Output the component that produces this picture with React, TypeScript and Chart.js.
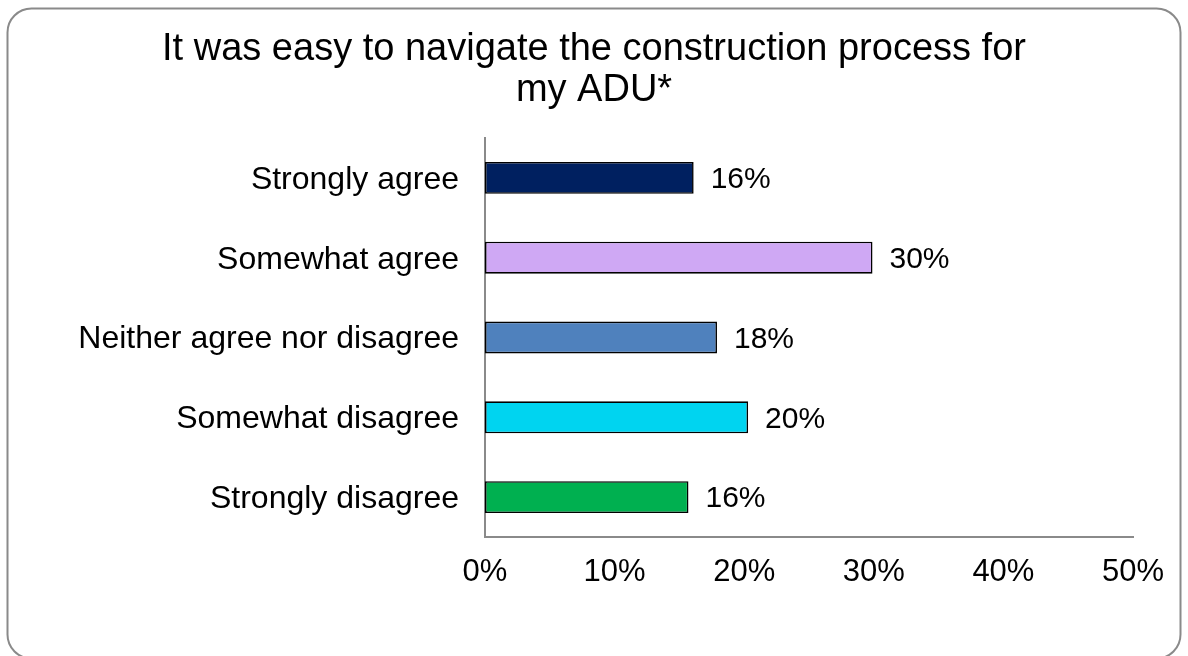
import React, { useEffect, useRef } from "react";
import { Chart, registerables } from "chart.js";

Chart.register(...registerables);

const titleLines = ["It was easy to navigate the construction process for", "my ADU*"];
const categories = [
  "Strongly agree",
  "Somewhat agree",
  "Neither agree nor disagree",
  "Somewhat disagree",
  "Strongly disagree",
];
const values = [16.1, 29.9, 17.9, 20.3, 15.7];
const barColors = ["#002060", "#CFA8F4", "#4F81BD", "#00D4F0", "#00B050"];
const xMin = 0;
const xMax = 50;
const xStep = 10;

const FONT = "'Liberation Sans', Arial, Helvetica, sans-serif";

const frame = {
  id: "frame",
  beforeDraw(chart: any) {
    const ctx = chart.ctx;
    ctx.save();
    ctx.fillStyle = "#ffffff";
    ctx.fillRect(0, 0, chart.width, chart.height);
    ctx.beginPath();
    ctx.lineWidth = 2;
    ctx.strokeStyle = "#8a8a8a";
    (ctx as any).roundRect(7.5, 8.5, 1173, 650, 24);
    ctx.stroke();
    ctx.restore();
  },
};

const dataLabels = {
  id: "dataLabels",
  afterDatasetsDraw(chart: any) {
    const ctx = chart.ctx;
    const meta = chart.getDatasetMeta(0);
    ctx.save();
    ctx.font = `30px ${FONT}`;
    ctx.fillStyle = "#000000";
    ctx.textAlign = "left";
    ctx.textBaseline = "middle";
    meta.data.forEach((bar: any, i: number) => {
      const v = chart.data.datasets[0].data[i] as number;
      ctx.fillText(Math.round(v) + "%", bar.x + 17, bar.y + 2);
    });
    ctx.restore();
  },
};

export default function App() {
  const ref = useRef<HTMLCanvasElement | null>(null);
  useEffect(() => {
    if (!ref.current) return;
    const chart = new Chart(ref.current, {
      type: "bar",
      data: {
        labels: categories,
        datasets: [
          {
            data: values,
            backgroundColor: barColors,
            borderColor: "#000000",
            borderWidth: 1.6,
            borderSkipped: false,
            barPercentage: 0.4,
            categoryPercentage: 1,
          },
        ],
      },
      options: {
        indexAxis: "y",
        animation: false,
        responsive: true,
        maintainAspectRatio: false,
        layout: { padding: { left: 55, right: 55, top: 0, bottom: 0 } },
        plugins: {
          legend: { display: false },
          tooltip: { enabled: false },
          title: {
            display: true,
            text: titleLines,
            color: "#000000",
            font: { family: FONT, size: 38, weight: "normal", lineHeight: 1.08 },
            padding: { top: 28.5, bottom: 27.4 },
          },
        },
        scales: {
          x: {
            min: xMin,
            max: xMax,
            grid: { display: false, drawTicks: false },
            border: { display: true, color: "#8a8a8a", width: 2 },
            ticks: {
              stepSize: xStep,
              padding: 17,
              color: "#000000",
              font: { family: FONT, size: 31 },
              callback: (v: any) => v + "%",
            },
            afterFit(scale: any) {
              scale.height = 119;
            },
          },
          y: {
            grid: { display: false, drawTicks: false },
            border: { display: true, color: "#8a8a8a", width: 2 },
            ticks: {
              padding: 26,
              labelOffset: 2,
              color: "#000000",
              font: { family: FONT, size: 32 },
            },
            afterFit(scale: any) {
              scale.width = 430;
            },
          },
        },
      },
      plugins: [frame, dataLabels],
    });
    return () => chart.destroy();
  }, []);
  return (
    <div style={{ position: "absolute", left: 0, top: 0, width: 1188, height: 656 }}>
      <canvas ref={ref} />
    </div>
  );
}
